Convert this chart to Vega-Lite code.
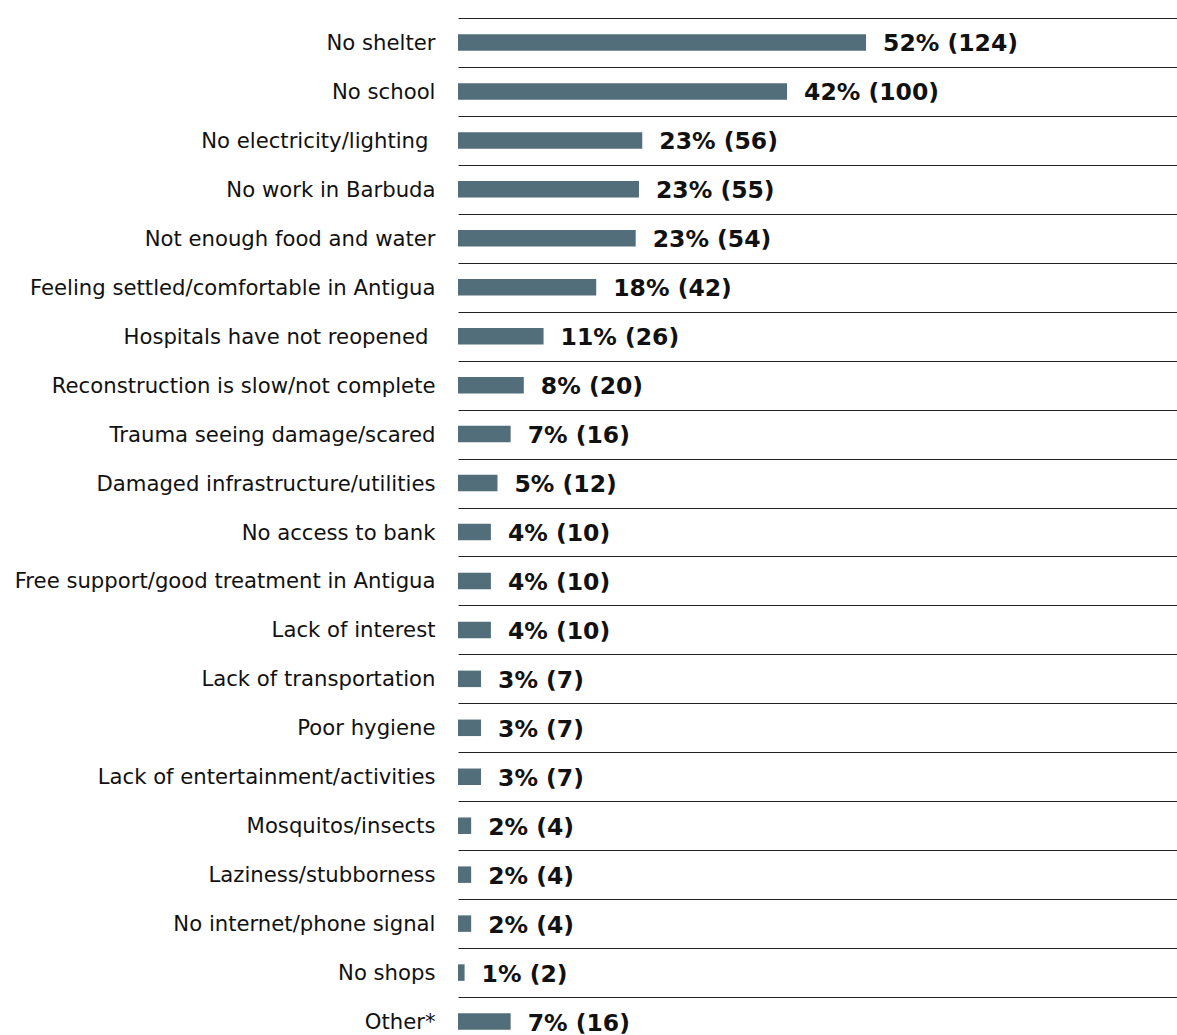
{
  "$schema": "https://vega.github.io/schema/vega-lite/v6.json",
  "autosize": "none",
  "padding": {"left": 458, "top": 18, "right": 0, "bottom": 0},
  "width": 719,
  "height": 1028,
  "background": "white",
  "config": {"view": {"stroke": null}},
  "data": {"values": [
    {"o": 1, "reason": "No shelter", "n": 124, "label": "52% (124)"},
    {"o": 2, "reason": "No school", "n": 100, "label": "42% (100)"},
    {"o": 3, "reason": "No electricity/lighting", "n": 56, "label": "23% (56)"},
    {"o": 4, "reason": "No work in Barbuda", "n": 55, "label": "23% (55)"},
    {"o": 5, "reason": "Not enough food and water", "n": 54, "label": "23% (54)"},
    {"o": 6, "reason": "Feeling settled/comfortable in Antigua", "n": 42, "label": "18% (42)"},
    {"o": 7, "reason": "Hospitals have not reopened", "n": 26, "label": "11% (26)"},
    {"o": 8, "reason": "Reconstruction is slow/not complete", "n": 20, "label": "8% (20)"},
    {"o": 9, "reason": "Trauma seeing damage/scared", "n": 16, "label": "7% (16)"},
    {"o": 10, "reason": "Damaged infrastructure/utilities", "n": 12, "label": "5% (12)"},
    {"o": 11, "reason": "No access to bank", "n": 10, "label": "4% (10)"},
    {"o": 12, "reason": "Free support/good treatment in Antigua", "n": 10, "label": "4% (10)"},
    {"o": 13, "reason": "Lack of interest", "n": 10, "label": "4% (10)"},
    {"o": 14, "reason": "Lack of transportation", "n": 7, "label": "3% (7)"},
    {"o": 15, "reason": "Poor hygiene", "n": 7, "label": "3% (7)"},
    {"o": 16, "reason": "Lack of entertainment/activities", "n": 7, "label": "3% (7)"},
    {"o": 17, "reason": "Mosquitos/insects", "n": 4, "label": "2% (4)"},
    {"o": 18, "reason": "Laziness/stubborness", "n": 4, "label": "2% (4)"},
    {"o": 19, "reason": "No internet/phone signal", "n": 4, "label": "2% (4)"},
    {"o": 20, "reason": "No shops", "n": 2, "label": "1% (2)"},
    {"o": 21, "reason": "Other*", "n": 16, "label": "7% (16)"}
  ]},
  "encoding": {
    "y": {
      "field": "reason", "type": "nominal",
      "sort": {"field": "o", "order": "ascending"},
      "scale": {"paddingInner": 0, "paddingOuter": 0},
      "axis": {
        "title": null, "domain": false, "ticks": false,
        "grid": true, "tickBand": "extent", "gridColor": "#222222", "gridWidth": 1.2, "gridOpacity": 1,
        "labelFont": "DejaVu Sans", "labelFontSize": 21.2, "labelColor": "#111111",
        "labelPadding": {"condition": {"test": "datum.value === 'No electricity/lighting' || datum.value === 'Hospitals have not reopened'", "value": 30}, "value": 23},
        "labelOffset": 1,
        "labelLimit": 0
      }
    },
    "x": {
      "field": "n", "type": "quantitative",
      "scale": {"domain": [0, 218.5], "nice": false, "zero": true},
      "axis": null
    }
  },
  "layer": [
    {"mark": {"type": "bar", "color": "#526e7b", "size": 16.5}},
    {
      "mark": {"type": "text", "align": "left", "baseline": "middle", "dx": 17, "dy": 2, "font": "DejaVu Sans", "fontWeight": "bold", "fontSize": 23.5, "color": "#111111"},
      "encoding": {"text": {"field": "label", "type": "nominal"}}
    }
  ]
}
